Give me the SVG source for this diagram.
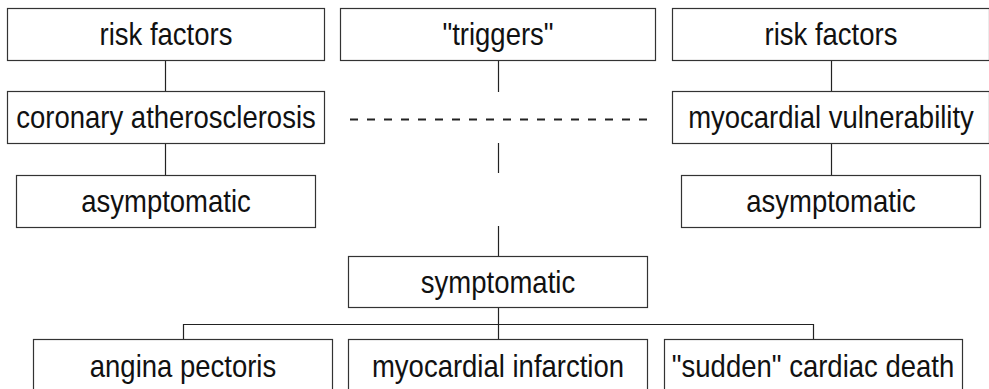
<svg xmlns="http://www.w3.org/2000/svg" width="989" height="389" viewBox="0 0 989 389">
<style>
.box{fill:#fff;stroke:#333;stroke-width:1.2}
.lbl{font-family:"Liberation Sans",Arial,sans-serif;font-size:27.5px;fill:#111;text-anchor:middle}
.ln{stroke:#222;stroke-width:1.2;fill:none}
.dash{stroke:#222;stroke-width:2;stroke-dasharray:8 9;fill:none}
</style>
<rect width="989" height="389" fill="#fff"/>
<g id="connectors">
<line class="ln" x1="165.5" y1="60" x2="165.5" y2="92"/>
<line class="ln" x1="165.5" y1="143" x2="165.5" y2="175"/>
<line class="ln" x1="831.5" y1="60" x2="831.5" y2="92"/>
<line class="ln" x1="831.5" y1="143" x2="831.5" y2="175"/>
<line class="ln" x1="498.5" y1="60" x2="498.5" y2="92"/>
<line class="ln" x1="498.5" y1="143" x2="498.5" y2="173"/>
<line class="ln" x1="498.5" y1="226" x2="498.5" y2="256"/>
<line class="dash" x1="350" y1="119.5" x2="648" y2="119.5"/>
<line class="ln" x1="498.5" y1="307" x2="498.5" y2="339"/>
<polyline class="ln" points="183.5,339 183.5,324.5 813.5,324.5 813.5,339"/>
</g>
<g id="risk1"><rect class="box" x="7.5" y="8.5" width="317" height="52"/><text class="lbl" transform="translate(166,44.5) scale(1,1.12)">risk factors</text></g>
<g id="triggers"><rect class="box" x="340.5" y="8.5" width="315" height="52"/><text class="lbl" transform="translate(498,44.5) scale(1,1.12)">"triggers"</text></g>
<g id="risk2"><rect class="box" x="672.5" y="8.5" width="317" height="52"/><text class="lbl" transform="translate(831,44.5) scale(1,1.12)">risk factors</text></g>
<g id="coronary"><rect class="box" x="7.5" y="91.5" width="317" height="52"/><text class="lbl" transform="translate(166,128) scale(1,1.12)">coronary atherosclerosis</text></g>
<g id="myovuln"><rect class="box" x="672.5" y="91.5" width="317" height="52"/><text class="lbl" transform="translate(831,128) scale(1,1.12)">myocardial vulnerability</text></g>
<g id="asym1"><rect class="box" x="16.5" y="175.5" width="299" height="52"/><text class="lbl" transform="translate(166,211.5) scale(1,1.12)">asymptomatic</text></g>
<g id="asym2"><rect class="box" x="681.5" y="175.5" width="299" height="52"/><text class="lbl" transform="translate(831,211.5) scale(1,1.12)">asymptomatic</text></g>
<g id="symptomatic"><rect class="box" x="348.5" y="256.5" width="299" height="51"/><text class="lbl" transform="translate(498,292.5) scale(1,1.12)">symptomatic</text></g>
<g id="angina"><rect class="box" x="33.5" y="339.5" width="299" height="60"/><text class="lbl" transform="translate(183,376.5) scale(1,1.12)">angina pectoris</text></g>
<g id="mi"><rect class="box" x="348.5" y="339.5" width="299" height="60"/><text class="lbl" transform="translate(498,376.5) scale(1,1.12)">myocardial infarction</text></g>
<g id="scd"><rect class="box" x="664.5" y="339.5" width="298" height="60"/><text class="lbl" transform="translate(813,376.5) scale(1,1.12)">"sudden" cardiac death</text></g>
</svg>
